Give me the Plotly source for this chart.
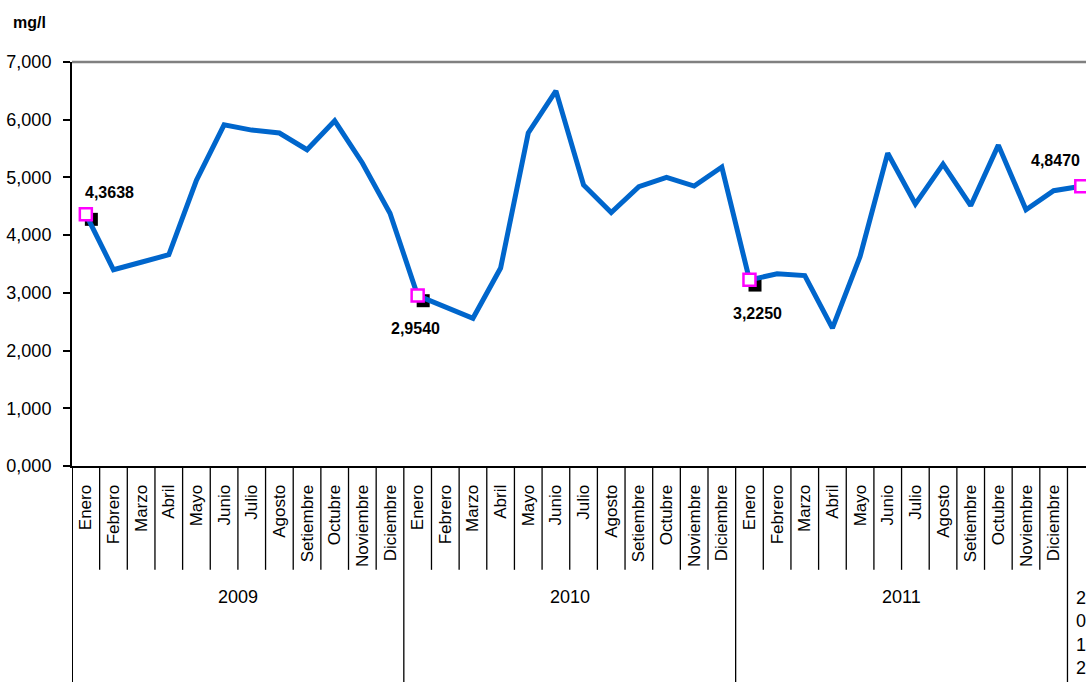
import plotly.graph_objects as go

# ---------------- data ----------------
years = ["2009"] * 12 + ["2010"] * 12 + ["2011"] * 12 + ["2012"]
month_names = ["Enero", "Febrero", "Marzo", "Abril", "Mayo", "Junio", "Julio",
               "Agosto", "Setiembre", "Octubre", "Noviembre", "Diciembre"]
months = month_names * 3 + ["Enero"]

values_2009 = [4.3638, 3.40, 3.53, 3.66, 4.95, 5.91, 5.82, 5.77, 5.48, 5.98, 5.25, 4.38]
values_2010 = [2.9540, 2.76, 2.56, 3.43, 5.77, 6.50, 4.87, 4.39, 4.84, 5.00, 4.85, 5.18]
values_2011 = [3.2250, 3.33, 3.30, 2.39, 3.63, 5.42, 4.54, 5.23, 4.51, 5.56, 4.44, 4.77]
values_2012 = [4.8470]
values = values_2009 + values_2010 + values_2011 + values_2012

y_ticks = [0, 1, 2, 3, 4, 5, 6, 7]
unit_label = "mg/l"

# ---------------- styling ----------------
FONT = "Liberation Sans, Arial, sans-serif"
LINE_BLUE = "#0066CC"
MAGENTA = "#FF00FF"

n = len(values)
x = list(range(n))
hl_idx = [i for i, m in enumerate(months) if m == "Enero"]
hl_x = [x[i] for i in hl_idx]
hl_y = [values[i] for i in hl_idx]
# pixel offsets of the value labels relative to their points
hl_shift = [(24, 22), (-2, -33), (8, -34), (-26, 26)]

fig = go.Figure()

# black "shadow" squares slightly offset behind the highlighted points
fig.add_trace(go.Scatter(
    x=[v + 0.2 for v in hl_x], y=[v - 0.09 for v in hl_y],
    mode="markers",
    marker=dict(symbol="square", size=13, color="black"),
    cliponaxis=False, showlegend=False, hoverinfo="skip"))

# main line
fig.add_trace(go.Scatter(
    x=x, y=values, mode="lines",
    line=dict(color=LINE_BLUE, width=5),
    cliponaxis=False, showlegend=False))

# highlighted January points
fig.add_trace(go.Scatter(
    x=hl_x, y=hl_y, mode="markers",
    marker=dict(symbol="square", size=12, color="white",
                line=dict(color=MAGENTA, width=2.5)),
    cliponaxis=False, showlegend=False))

shapes = []
# top border of plot area
shapes.append(dict(type="line", xref="paper", yref="paper", x0=0, x1=1, y0=1, y1=1,
                   line=dict(color="#808080", width=2.5)))
# category separators (short) and year separators (long)
for i in range(n + 1):
    bx = i - 0.5
    if i == 0 or (i < n and months[i] == "Enero"):
        y0 = -0.6
    else:
        y0 = -0.257
    shapes.append(dict(type="line", xref="x", yref="paper", x0=bx, x1=bx, y0=0, y1=y0,
                       line=dict(color="black", width=1.3 if i else 2)))

annotations = []
# value labels
for xv, yv, (dx, dy) in zip(hl_x, hl_y, hl_shift):
    annotations.append(dict(x=xv, y=yv, xref="x", yref="y",
                            text=f"{yv:.4f}".replace(".", ","), showarrow=False,
                            xshift=dx, yshift=dy, xanchor="center", yanchor="middle",
                            font=dict(family=FONT, size=16, color="black", weight="bold")))
# year labels
for yr in ["2009", "2010", "2011", "2012"]:
    idx = [i for i, v in enumerate(years) if v == yr]
    cx = sum(idx) / len(idx)
    if len(idx) == 1:
        annotations.append(dict(x=cx, y=-0.296, xref="x", yref="paper",
                                text="<br>".join(list(yr)), showarrow=False,
                                yanchor="top", xanchor="center",
                                font=dict(family=FONT, size=18, color="black")))
    else:
        annotations.append(dict(x=cx, y=-0.324, xref="x", yref="paper",
                                text=yr, showarrow=False,
                                yanchor="middle", xanchor="center",
                                font=dict(family=FONT, size=18, color="black")))
# unit label
annotations.append(dict(x=-0.0424, y=1.099, xref="paper", yref="paper", text=unit_label,
                        showarrow=False, xanchor="center", yanchor="middle",
                        font=dict(family=FONT, size=16, color="black", weight="bold")))

fig.update_layout(
    width=1086, height=682,
    margin=dict(l=72, r=0, t=62, b=216),
    paper_bgcolor="white", plot_bgcolor="white",
    separators=",.",
    font=dict(family=FONT, color="black"),
    shapes=shapes, annotations=annotations,
    showlegend=False,
    xaxis=dict(
        range=[-0.5, 36.17],
        tickmode="array", tickvals=x, ticktext=months, tickangle=-90,
        ticks="outside", ticklen=10, tickcolor="rgba(0,0,0,0)",
        tickfont=dict(family=FONT, size=17, color="black"),
        showline=True, linecolor="black", linewidth=2,
        showgrid=False, zeroline=False, fixedrange=True),
    yaxis=dict(
        range=[0, 7], tickmode="array", tickvals=y_ticks, tickformat=".3f",
        ticks="outside", ticklen=7, tickcolor="black", tickwidth=1.5,
        ticklabelstandoff=8,
        tickfont=dict(family=FONT, size=18, color="black"),
        showline=True, linecolor="black", linewidth=2,
        showgrid=False, zeroline=False, fixedrange=True),
)

# remove the default page margin so the figure fills the window exactly
fig.write_html(
    "out.html",
    config={"displayModeBar": False},
    post_script="document.body.style.margin='0';document.body.style.overflow='hidden';",
)
